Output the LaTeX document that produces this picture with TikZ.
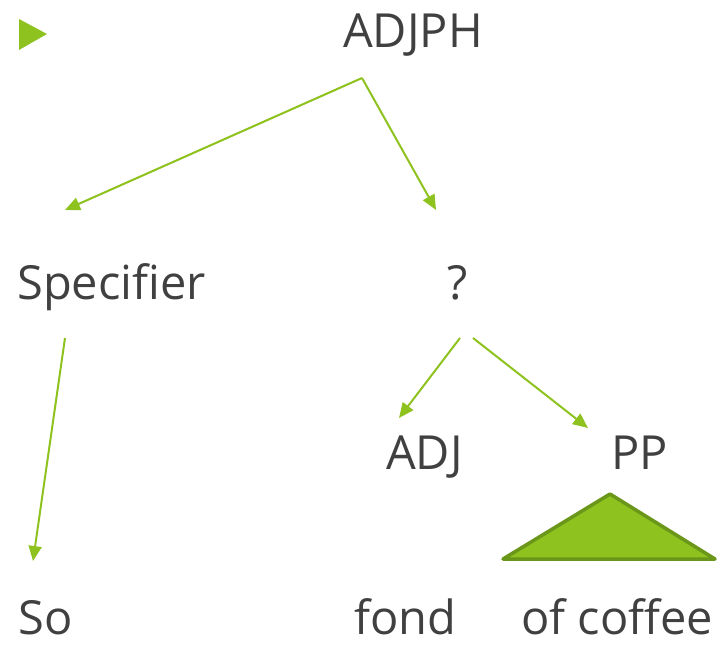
\documentclass[tikz,border=0pt]{standalone}
\usepackage{fontspec}
\setmainfont{Open Sans}
\usetikzlibrary{arrows.meta}
\definecolor{lgreen}{HTML}{8DC21F}
\definecolor{dgreen}{HTML}{6A961A}
\definecolor{txt}{HTML}{404040}
\tikzset{
  lbl/.style={anchor=base west, inner sep=0pt, text depth=0pt, text=txt, font=\fontsize{47}{56}\selectfont},
  edge/.style={draw=lgreen, line width=2pt, -{Triangle[length=15pt,width=13pt]}}
}
\begin{document}
\begin{tikzpicture}[x=1pt,y=-1pt]
\useasboundingbox (0,0) rectangle (718,647);
\fill[lgreen] (19,19) -- (19,50) -- (47,34) -- cycle;
\node[lbl] (adjph) at (343,48) {ADJPH};
\node[lbl] (spec) at (17,300) {Specifier};
\node[lbl] (q) at (447,300) {?};
\node[lbl] (adj) at (386,469) {ADJ};
\node[lbl] (pp) at (611,469) {PP};
\node[lbl] (so) at (18,634) {So};
\node[lbl] (fond) at (354,634) {fond};
\node[lbl] (coffee) at (521,634) {of coffee};
\coordinate (a0) at (362,78);
\coordinate (a1) at (65,210);
\coordinate (a2) at (436,210);
\coordinate (s0) at (65,338);
\coordinate (s1) at (33,561);
\coordinate (q1) at (460,338);
\coordinate (q2) at (473,338);
\coordinate (adjt) at (399,418);
\coordinate (ppt) at (588,428);
\draw[edge] (a0) -- (a1);
\draw[edge] (a0) -- (a2);
\draw[edge] (s0) -- (s1);
\draw[edge] (q1) -- (adjt);
\draw[edge] (q2) -- (ppt);
\filldraw[fill=lgreen, draw=dgreen, line width=3.5pt, line join=round] (610,494) -- (503,559) -- (715,559) -- cycle;
\end{tikzpicture}
\end{document}
